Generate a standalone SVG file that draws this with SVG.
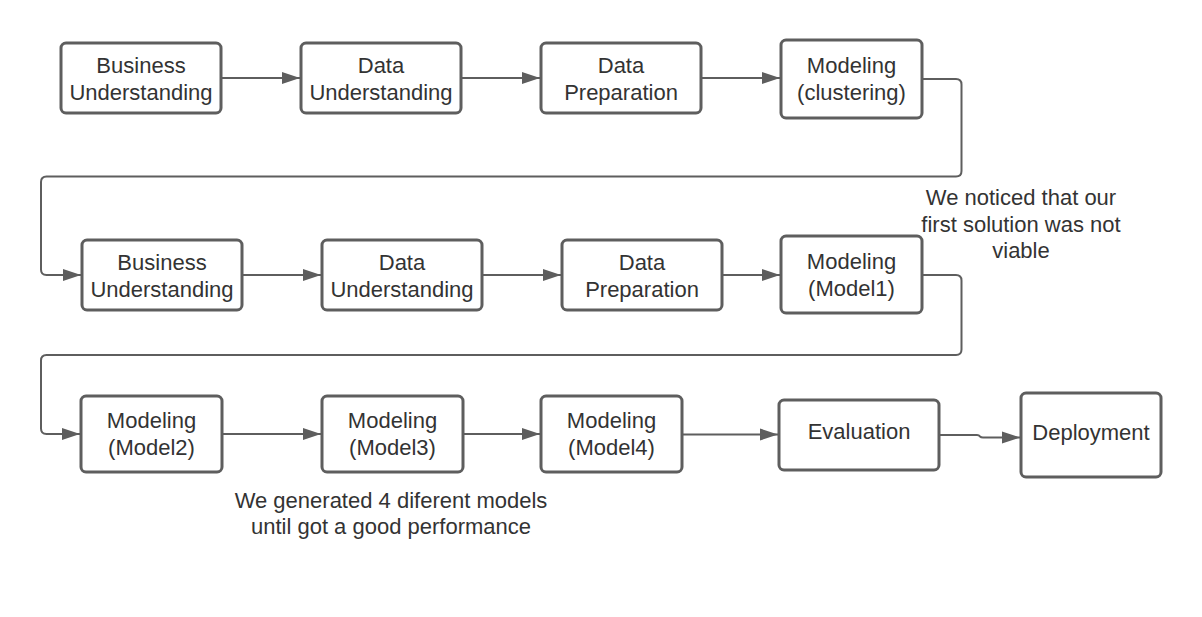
<svg xmlns="http://www.w3.org/2000/svg" width="1202" height="617" viewBox="0 0 1202 617">
<style>
.box{fill:#ffffff;stroke:#5e5e5e;stroke-width:3}
.lbl{font-family:"Liberation Sans",Arial,sans-serif;font-size:22px;fill:#333333;text-anchor:middle}
.con{fill:none;stroke:#5e5e5e;stroke-width:2;stroke-linejoin:round}
</style>
<defs>
<marker id="arr" markerUnits="userSpaceOnUse" markerWidth="18" markerHeight="14" refX="18" refY="7" orient="auto">
<path d="M0,1 L18,7 L0,13 Z" fill="#5e5e5e"/>
</marker>
</defs>
<rect width="1202" height="617" fill="#ffffff"/>
<g id="connectors">
<path class="con" marker-end="url(#arr)" d="M221,78 H300"/>
<path class="con" marker-end="url(#arr)" d="M461,78 H540"/>
<path class="con" marker-end="url(#arr)" d="M701,78 H780"/>
<path class="con" marker-end="url(#arr)" d="M922,79 H956 Q961.5,79 961.5,84.5 V171 Q961.5,176.5 956,176.5 H46.5 Q41,176.5 41,182 V269.5 Q41,275 46.5,275 H81"/>
<path class="con" marker-end="url(#arr)" d="M242,275 H321"/>
<path class="con" marker-end="url(#arr)" d="M482,275 H561"/>
<path class="con" marker-end="url(#arr)" d="M722,275 H780"/>
<path class="con" marker-end="url(#arr)" d="M922,275 H956 Q961.5,275 961.5,280.5 V349.5 Q961.5,355 956,355 H46.5 Q41,355 41,360.5 V428.5 Q41,434 46.5,434 H80"/>
<path class="con" marker-end="url(#arr)" d="M222,434 H321"/>
<path class="con" marker-end="url(#arr)" d="M463,434 H540"/>
<path class="con" marker-end="url(#arr)" d="M682,434.5 H778"/>
<path class="con" marker-end="url(#arr)" d="M939,435 H977 Q979,435 980,436.5 Q981,437.5 983,437.5 H1020"/>
</g>
<g id="n1"><rect class="box" x="61" y="43" width="160" height="70" rx="5"/><text class="lbl" x="141" y="72.5">Business</text><text class="lbl" x="141" y="99.5">Understanding</text></g>
<g id="n2"><rect class="box" x="301" y="43" width="160" height="70" rx="5"/><text class="lbl" x="381" y="72.5">Data</text><text class="lbl" x="381" y="99.5">Understanding</text></g>
<g id="n3"><rect class="box" x="541" y="43" width="160" height="70" rx="5"/><text class="lbl" x="621" y="72.5">Data</text><text class="lbl" x="621" y="99.5">Preparation</text></g>
<g id="n4"><rect class="box" x="781" y="40" width="141" height="78" rx="5"/><text class="lbl" x="851.5" y="73">Modeling</text><text class="lbl" x="851.5" y="100">(clustering)</text></g>
<g id="n5"><rect class="box" x="82" y="240" width="160" height="70" rx="5"/><text class="lbl" x="162" y="269.5">Business</text><text class="lbl" x="162" y="296.5">Understanding</text></g>
<g id="n6"><rect class="box" x="322" y="240" width="160" height="70" rx="5"/><text class="lbl" x="402" y="269.5">Data</text><text class="lbl" x="402" y="296.5">Understanding</text></g>
<g id="n7"><rect class="box" x="562" y="240" width="160" height="70" rx="5"/><text class="lbl" x="642" y="269.5">Data</text><text class="lbl" x="642" y="296.5">Preparation</text></g>
<g id="n8"><rect class="box" x="781" y="236" width="141" height="77" rx="5"/><text class="lbl" x="851.5" y="269">Modeling</text><text class="lbl" x="851.5" y="296">(Model1)</text></g>
<g id="n9"><rect class="box" x="81" y="396" width="141" height="76" rx="5"/><text class="lbl" x="151.5" y="428">Modeling</text><text class="lbl" x="151.5" y="455">(Model2)</text></g>
<g id="n10"><rect class="box" x="322" y="396" width="141" height="76" rx="5"/><text class="lbl" x="392.5" y="428">Modeling</text><text class="lbl" x="392.5" y="455">(Model3)</text></g>
<g id="n11"><rect class="box" x="541" y="396" width="141" height="76" rx="5"/><text class="lbl" x="611.5" y="428">Modeling</text><text class="lbl" x="611.5" y="455">(Model4)</text></g>
<g id="n12"><rect class="box" x="779" y="400" width="160" height="70" rx="5"/><text class="lbl" x="859" y="439">Evaluation</text></g>
<g id="n13"><rect class="box" x="1021" y="393" width="140" height="84" rx="5"/><text class="lbl" x="1091" y="440">Deployment</text></g>
<g id="notes">
<text class="lbl" x="1021" y="205">We noticed that our</text>
<text class="lbl" x="1021" y="231.5">first solution was not</text>
<text class="lbl" x="1021" y="258">viable</text>
<text class="lbl" x="391" y="508">We generated 4 diferent models</text>
<text class="lbl" x="391" y="534">until got a good performance</text>
</g>
</svg>
